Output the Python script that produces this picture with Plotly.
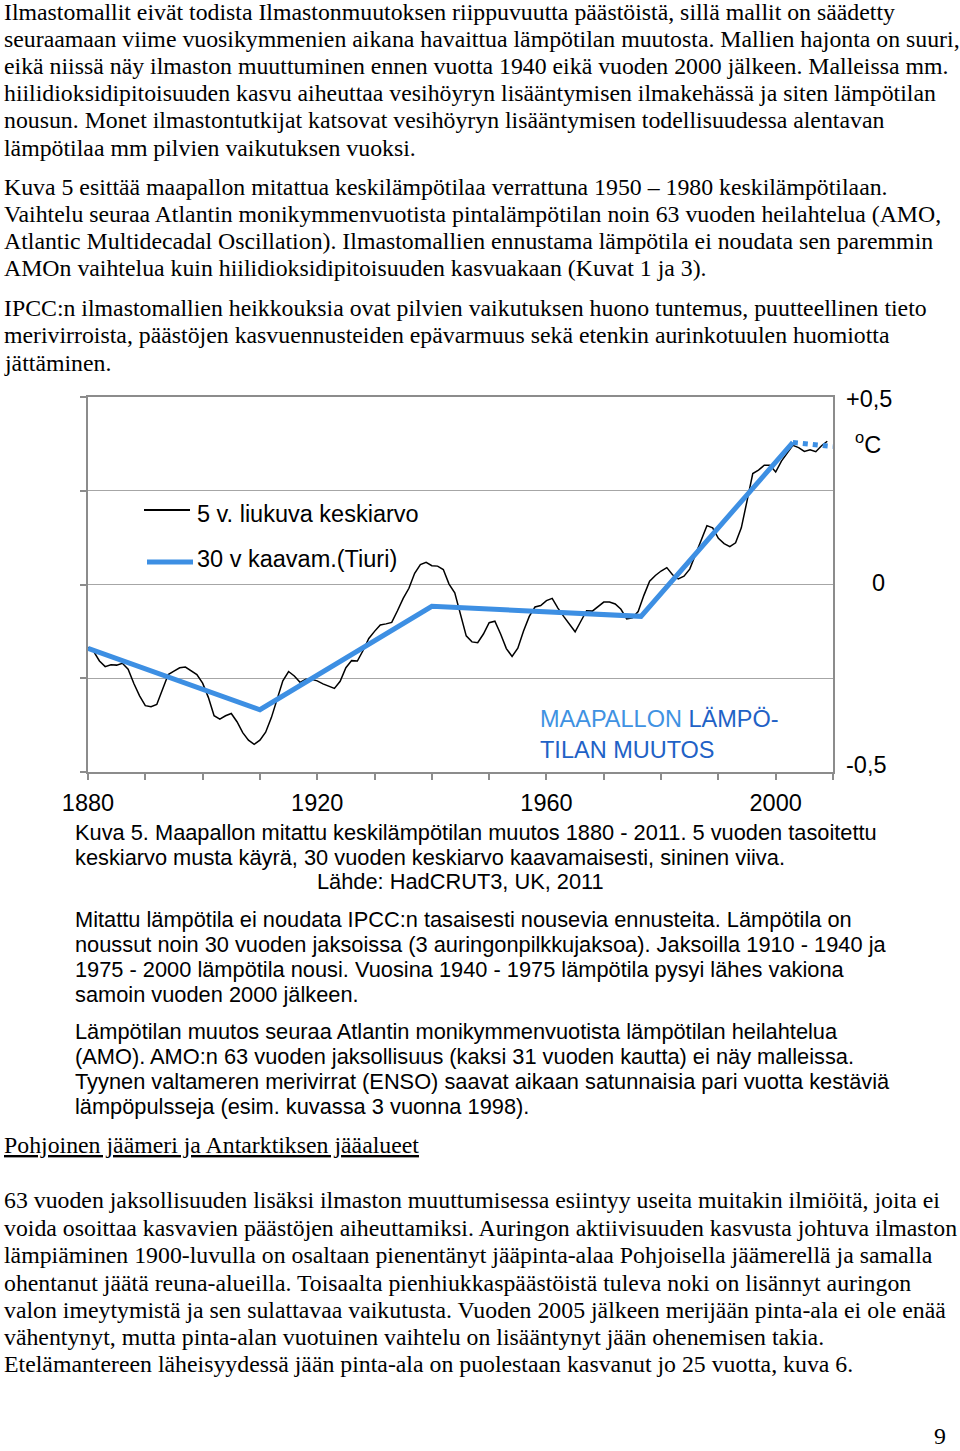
import plotly.graph_objects as go

W, H = 960, 1451

# 5 v. liukuva keskiarvo (HadCRUT3)
years = list(range(1880, 2010))
temp_5y = [
    -0.168, -0.179, -0.204, -0.219, -0.214, -0.215, -0.210, -0.226, -0.264, -0.297,
    -0.323, -0.326, -0.320, -0.281, -0.240, -0.231, -0.222, -0.220, -0.229, -0.240,
    -0.263, -0.301, -0.350, -0.359, -0.350, -0.344, -0.366, -0.395, -0.415, -0.426,
    -0.415, -0.394, -0.355, -0.304, -0.257, -0.232, -0.244, -0.261, -0.253, -0.253,
    -0.257, -0.265, -0.271, -0.277, -0.258, -0.222, -0.203, -0.204, -0.176, -0.144,
    -0.125, -0.108, -0.105, -0.101, -0.070, -0.037, -0.010, 0.030, 0.053, 0.059,
    0.050, 0.049, 0.040, 0.001, -0.022, -0.076, -0.137, -0.153, -0.155, -0.132,
    -0.102, -0.098, -0.132, -0.171, -0.192, -0.170, -0.124, -0.085, -0.060, -0.056,
    -0.043, -0.037, -0.063, -0.085, -0.107, -0.126, -0.098, -0.070, -0.071, -0.059,
    -0.047, -0.047, -0.052, -0.066, -0.092, -0.089, -0.072, -0.029, 0.009, 0.024,
    0.036, 0.045, 0.026, 0.015, 0.022, 0.041, 0.081, 0.118, 0.157, 0.151,
    0.123, 0.109, 0.101, 0.111, 0.151, 0.223, 0.296, 0.305, 0.318, 0.318,
    0.300, 0.329, 0.350, 0.371, 0.365, 0.355, 0.359, 0.354, 0.370, 0.382,
]

# 30 v kaavam. (Tiuri)
tiuri_years = [1880, 1910, 1940, 1976.5, 2003]
tiuri_vals = [-0.17, -0.334, -0.058, -0.085, 0.379]
tiuri_ext_years = [2003, 2010]
tiuri_ext_vals = [0.379, 0.368]

x_label_years = [1880, 1920, 1960, 2000]
x_minor_years = list(range(1890, 2011, 10))
y_ticks = [-0.5, -0.25, 0, 0.25, 0.5]

text_top = [
    ('Ilmastomallit eivät todista Ilmastonmuutoksen riippuvuutta päästöistä, sillä mallit on säädetty', 12),
    ('seuraamaan viime vuosikymmenien aikana havaittua lämpötilan muutosta. Mallien hajonta on suuri,', 39),
    ('eikä niissä näy ilmaston muuttuminen ennen vuotta 1940 eikä vuoden 2000 jälkeen. Malleissa mm.', 66),
    ('hiilidioksidipitoisuuden kasvu aiheuttaa vesihöyryn lisääntymisen ilmakehässä ja siten lämpötilan', 93),
    ('nousun. Monet ilmastontutkijat katsovat vesihöyryn lisääntymisen todellisuudessa alentavan', 120),
    ('lämpötilaa mm pilvien vaikutuksen vuoksi.', 148),
    ('Kuva 5 esittää maapallon mitattua keskilämpötilaa verrattuna 1950 – 1980 keskilämpötilaan.', 187),
    ('Vaihtelu seuraa Atlantin monikymmenvuotista pintalämpötilan noin 63 vuoden heilahtelua (AMO,', 214),
    ('Atlantic Multidecadal Oscillation). Ilmastomallien ennustama lämpötila ei noudata sen paremmin', 241),
    ('AMOn vaihtelua kuin hiilidioksidipitoisuuden kasvuakaan (Kuvat 1 ja 3).', 268),
    ('IPCC:n ilmastomallien heikkouksia ovat pilvien vaikutuksen huono tuntemus, puutteellinen tieto', 308),
    ('merivirroista, päästöjen kasvuennusteiden epävarmuus sekä etenkin aurinkotuulen huomiotta', 335),
    ('jättäminen.', 363),
]

text_caption = [
    ('Kuva 5. Maapallon mitattu keskilämpötilan muutos 1880 - 2011. 5 vuoden tasoitettu', 832),
    ('keskiarvo musta käyrä, 30 vuoden keskiarvo kaavamaisesti, sininen viiva.', 857),
    ('Mitattu lämpötila ei noudata IPCC:n tasaisesti nousevia ennusteita. Lämpötila on', 919),
    ('noussut noin 30 vuoden jaksoissa (3 auringonpilkkujaksoa). Jaksoilla 1910 - 1940 ja', 944),
    ('1975 - 2000 lämpötila nousi. Vuosina 1940 - 1975 lämpötila pysyi lähes vakiona', 969),
    ('samoin vuoden 2000 jälkeen.', 994),
    ('Lämpötilan muutos seuraa Atlantin monikymmenvuotista lämpötilan heilahtelua', 1031),
    ('(AMO). AMO:n 63 vuoden jaksollisuus (kaksi 31 vuoden kautta) ei näy malleissa.', 1056),
    ('Tyynen valtameren merivirrat (ENSO) saavat aikaan satunnaisia pari vuotta kestäviä', 1081),
    ('lämpöpulsseja (esim. kuvassa 3 vuonna 1998).', 1106),
]

text_bottom = [
    ('<u>Pohjoinen jäämeri ja Antarktiksen jääalueet</u>', 1145),
    ('63 vuoden jaksollisuuden lisäksi ilmaston muuttumisessa esiintyy useita muitakin ilmiöitä, joita ei', 1200),
    ('voida osoittaa kasvavien päästöjen aiheuttamiksi. Auringon aktiivisuuden kasvusta johtuva ilmaston', 1228),
    ('lämpiäminen 1900-luvulla on osaltaan pienentänyt jääpinta-alaa Pohjoisella jäämerellä ja samalla', 1255),
    ('ohentanut jäätä reuna-alueilla. Toisaalta pienhiukkaspäästöistä tuleva noki on lisännyt auringon', 1283),
    ('valon imeytymistä ja sen sulattavaa vaikutusta. Vuoden 2005 jälkeen merijään pinta-ala ei ole enää', 1310),
    ('vähentynyt, mutta pinta-alan vuotuinen vaihtelu on lisääntynyt jään ohenemisen takia.', 1337),
    ('Etelämantereen läheisyydessä jään pinta-ala on puolestaan kasvanut jo 25 vuotta, kuva 6.', 1364),
]

SERIF = 'Liberation Serif, Times New Roman, serif'
SANS = 'Liberation Sans, Arial, sans-serif'
BLUE = '#3d8fe3'
GRID = '#a6a6a6'
FRAME = '#8c8c8c'


def px(x, y):
    # screen pixel -> paper coordinates
    return x / W, 1 - y / H


def note(x, y, text, font, xanchor='left', yanchor='middle', **kw):
    ax, ay = px(x, y)
    return dict(x=ax, y=ay, xref='paper', yref='paper', text=text, showarrow=False,
                xanchor=xanchor, yanchor=yanchor, font=font, **kw)


fig = go.Figure()
fig.add_trace(go.Scatter(
    x=years, y=temp_5y, mode='lines',
    line=dict(color='black', width=1.5),
    name='5 v. liukuva keskiarvo'
))
fig.add_trace(go.Scatter(
    x=tiuri_years, y=tiuri_vals, mode='lines',
    line=dict(color=BLUE, width=5),
    name='30 v kaavam.(Tiuri)'
))
fig.add_trace(go.Scatter(
    x=tiuri_ext_years, y=tiuri_ext_vals, mode='lines',
    line=dict(color=BLUE, width=5, dash='dot'),
    showlegend=False
))

serif_font = dict(family=SERIF, size=23.8, color='black')
sans_font = dict(family=SANS, size=21.8, color='black')
chart_font = dict(family=SANS, size=23.5, color='black')

annotations = []
#page text
for txt, y in text_top + text_bottom:
    annotations.append(note(2, y, txt, serif_font))
for txt, y in text_caption:
    annotations.append(note(73, y, txt, sans_font))
annotations.append(note(460, 882, 'Lähde: HadCRUT3, UK, 2011', sans_font, xanchor='center'))
annotations.append(note(940, 1451, '9', serif_font, xanchor='center', yanchor='bottom'))

#chart texts
for txt, x, y in [('+0,5', 869, 399), ('<sup>o</sup>C', 868, 443), ('0', 878, 583), ('-0,5', 866, 765)]:
    annotations.append(note(x, y, txt, chart_font, xanchor='center'))
for txt, y in [('5 v. liukuva keskiarvo', 514), ('30 v kaavam.(Tiuri)', 559)]:
    annotations.append(note(195, y, txt, chart_font))
annotations.append(note(
    538, 734,
    '<span style="color:#3f92e2">MAAPALLON</span> LÄMPÖ-<br>TILAN MUUTOS',
    dict(family=SANS, size=23.5, color='#1f62c6'), align='left'
))

#legend samples
shapes = []
for x0, x1, y, color, width in [(144, 190, 510, 'black', 2), (147, 193, 562, BLUE, 5)]:
    sx0, sy = px(x0, y)
    sx1, _ = px(x1, y)
    shapes.append(dict(type='line', xref='paper', yref='paper', x0=sx0, x1=sx1, y0=sy, y1=sy,
                       line=dict(color=color, width=width)))

dx0, dy1 = px(88, 397)
dx1, dy0 = px(833, 772)

fig.update_layout(
    width=W, height=H,
    margin=dict(l=0, r=0, t=0, b=0, autoexpand=False),
    paper_bgcolor='white', plot_bgcolor='white',
    showlegend=False,
    font=dict(family=SANS, color='black'),
    xaxis=dict(
        domain=[dx0, dx1], range=[1880, 2010],
        tickvals=x_label_years,
        ticktext=[str(v) for v in x_label_years],
        ticks='outside', ticklen=6, tickwidth=1.5, tickcolor=FRAME,
        minor=dict(tickvals=x_minor_years, ticks='outside', ticklen=6, tickwidth=1.5,
                   tickcolor=FRAME, showgrid=False),
        tickfont=chart_font,
        ticklabelstandoff=3,
        showline=True, linecolor=FRAME, linewidth=2, mirror=True,
        showgrid=False, zeroline=False, automargin=False
    ),
    yaxis=dict(
        domain=[dy0, dy1], range=[-0.5, 0.5],
        tickvals=y_ticks, showticklabels=False,
        ticks='outside', ticklen=6, tickwidth=1.5, tickcolor=FRAME,
        showline=True, linecolor=FRAME, linewidth=2, mirror=True,
        showgrid=True, gridcolor=GRID, gridwidth=1.2, zeroline=False, automargin=False
    ),
    annotations=annotations,
    shapes=shapes
)

# page body has a default 8 px margin; remove it so the figure fills the window
fig.write_html('out.html', config={'displayModeBar': False},
               post_script="document.body.style.margin='0px';")
